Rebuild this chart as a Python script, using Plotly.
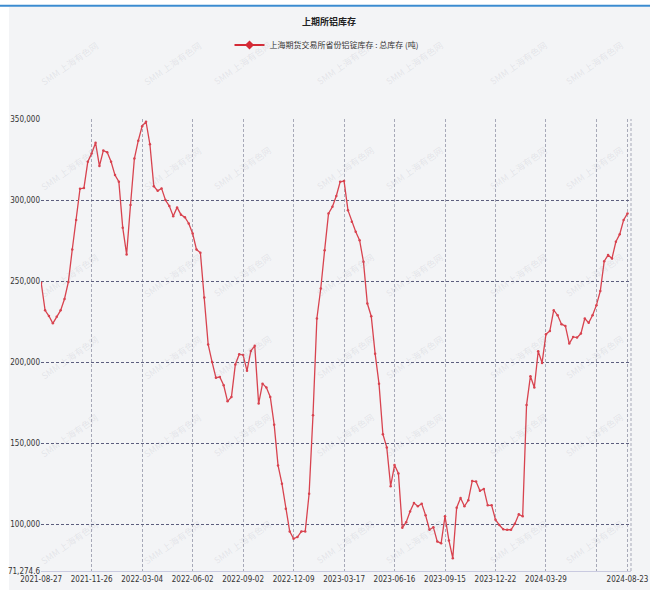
import plotly.graph_objects as go

# ---------------- data ----------------
dates = [
    "2021-08-27", "2021-09-03", "2021-09-10", "2021-09-17", "2021-09-24", "2021-09-30", "2021-10-08",
    "2021-10-15", "2021-10-22", "2021-10-29", "2021-11-05", "2021-11-12", "2021-11-19", "2021-11-26",
    "2021-12-03", "2021-12-10", "2021-12-17", "2021-12-24", "2021-12-31", "2022-01-07", "2022-01-14",
    "2022-01-21", "2022-01-28", "2022-02-11", "2022-02-18", "2022-02-25", "2022-03-04",
    "2022-03-11", "2022-03-18", "2022-03-25", "2022-04-01", "2022-04-08", "2022-04-15", "2022-04-22",
    "2022-04-29", "2022-05-06", "2022-05-13", "2022-05-20", "2022-05-27", "2022-06-02",
    "2022-06-10", "2022-06-17", "2022-06-24", "2022-07-01", "2022-07-08", "2022-07-15", "2022-07-22",
    "2022-07-29", "2022-08-05", "2022-08-12", "2022-08-19", "2022-08-26", "2022-09-02",
    "2022-09-09", "2022-09-16", "2022-09-23", "2022-09-30", "2022-10-14", "2022-10-21", "2022-10-28",
    "2022-11-04", "2022-11-11", "2022-11-18", "2022-11-25", "2022-12-02", "2022-12-09",
    "2022-12-16", "2022-12-23", "2022-12-30", "2023-01-06", "2023-01-13", "2023-01-20", "2023-02-03",
    "2023-02-10", "2023-02-17", "2023-02-24", "2023-03-03", "2023-03-10", "2023-03-17",
    "2023-03-24", "2023-03-31", "2023-04-07", "2023-04-14", "2023-04-21", "2023-04-28", "2023-05-05",
    "2023-05-12", "2023-05-19", "2023-05-26", "2023-06-02", "2023-06-09", "2023-06-16",
    "2023-06-21", "2023-06-30", "2023-07-07", "2023-07-14", "2023-07-21", "2023-07-28", "2023-08-04",
    "2023-08-11", "2023-08-18", "2023-08-25", "2023-09-01", "2023-09-08", "2023-09-15",
    "2023-09-22", "2023-09-28", "2023-10-13", "2023-10-20", "2023-10-27", "2023-11-03", "2023-11-10",
    "2023-11-17", "2023-11-24", "2023-12-01", "2023-12-08", "2023-12-15", "2023-12-22",
    "2023-12-29", "2024-01-05", "2024-01-12", "2024-01-19", "2024-01-26", "2024-02-02", "2024-02-08",
    "2024-02-23", "2024-03-01", "2024-03-08", "2024-03-15", "2024-03-22", "2024-03-29",
    "2024-04-03", "2024-04-12", "2024-04-19", "2024-04-26", "2024-04-30", "2024-05-10", "2024-05-17",
    "2024-05-24", "2024-05-31", "2024-06-07", "2024-06-14", "2024-06-21", "2024-06-28",
    "2024-07-05", "2024-07-12", "2024-07-19", "2024-07-26", "2024-08-02", "2024-08-09", "2024-08-16",
    "2024-08-23",
]

inventory = [
    249000, 232000, 228500, 224000, 228000, 232000, 239000, 249500, 269500, 287700,
    307000, 307400, 323600, 328800, 335400, 321000, 330500, 329500, 323600, 315400,
    311300, 283000, 266500, 297000, 325600, 336600, 345600, 348300, 334400, 308600,
    305700, 307200, 300000, 296300, 290100, 295500, 291000, 289400, 285600, 279400,
    269500, 267500, 240000, 211000, 200200, 190500, 190900, 185800, 175900, 178600,
    198600, 204900, 204500, 194700, 207000, 210100, 174500, 186800, 184400, 178600,
    161500, 136400, 125100, 109700, 95700, 91200, 92200, 95700, 95700, 118900,
    167300, 227000, 245500, 269100, 291800, 295900, 302500, 311300, 311700, 293800,
    286600, 280500, 275300, 261900, 236200, 228400, 205300, 186800, 155600, 147500,
    123600, 136600, 131400, 97900, 101400, 108000, 113200, 111200, 112800, 105600,
    96700, 98300, 89500, 88400, 105000, 90100, 79194, 110300, 116300, 111200,
    114900, 126700, 126400, 120700, 121900, 111800, 111800, 102900, 99600, 97000,
    96700, 96700, 100400, 106200, 105000, 173600, 191400, 184400, 206800, 199600,
    217300, 219300, 232100, 229000, 223500, 222400, 211500, 215600, 215200, 217700,
    227000, 224300, 229000, 235200, 244000, 262300, 266100, 264000, 274300, 279000,
    287700, 291800,
]

x_tick_idx = list(range(0, len(dates), 13)) + [len(dates) - 1]
x_tick_vals = [dates[i] for i in x_tick_idx]
x_tick_text = [dates[i] if i != 143 else "" for i in x_tick_idx]

y_tick_vals = [71274.6, 100000, 150000, 200000, 250000, 300000, 350000]
y_tick_text = ["71,274.6", "100,000", "150,000", "200,000", "250,000", "300,000", "350,000"]

title_text = "上期所铝库存"
series_name = "上海期货交易所省份铝锭库存 : 总库存 (吨)"
watermark = "SMM 上海有色网"

# ---------------- layout helpers ----------------
W, H = 650, 590
L, R, T, B = 41, 19, 119, 19
PW, PH = W - L - R, H - T - B


def px_x(x):
    return (x - L) / PW


def px_y(y):
    return (H - B - y) / PH


num_font = "DejaVu Sans Condensed, Liberation Sans Narrow, sans-serif"
cjk_font = "Noto Sans CJK SC, sans-serif"
line_color = "#d8434f"

fig = go.Figure()
fig.add_trace(go.Scatter(
    x=dates, y=inventory, name=series_name, mode="lines+markers", showlegend=False,
    line=dict(color=line_color, width=1.3),
    marker=dict(color=line_color, size=2.5),
    hoverinfo="skip",
))
# legend entry (no data of its own)
fig.add_trace(go.Scatter(
    x=[None], y=[None], name=series_name, mode="lines+markers", showlegend=True,
    line=dict(color="#d42a36", width=2),
    marker=dict(color="#d42a36", size=7, symbol="diamond"),
))

grid_dash = "3px,2px"
shapes = [
    dict(type="rect", xref="paper", yref="paper", x0=px_x(9), x1=px_x(W), y0=px_y(H), y1=px_y(7),
         fillcolor="#f3f4f6", line=dict(width=0), layer="below"),
    dict(type="line", xref="paper", yref="paper", x0=px_x(0), x1=px_x(W), y0=px_y(5.7), y1=px_y(5.7),
         line=dict(color="#3b8bd0", width=2), layer="below"),
    dict(type="line", xref="paper", yref="paper", x0=1, x1=1, y0=0, y1=1,
         line=dict(color="#a7a9b8", width=1, dash=grid_dash)),
]

annotations = []
cols = [36, 139, 242, 345, 448, 552, 628]
rows = [36, 141, 248, 357, 463, 570]
for cy in rows:
    for cx in cols:
        annotations.append(dict(
            text=watermark, x=px_x(cx), y=px_y(cy), xref="paper", yref="paper",
            showarrow=False, textangle=-35,
            font=dict(family=cjk_font, size=9, color="rgba(150,155,170,0.18)"),
        ))

fig.update_layout(
    width=W, height=H, autosize=False,
    margin=dict(l=L, r=R, t=T, b=B, pad=0, autoexpand=False),
    paper_bgcolor="white", plot_bgcolor="rgba(0,0,0,0)",
    hovermode=False,
    title=dict(text="<b>" + title_text + "</b>", x=329 / W, xref="container", xanchor="center",
               y=1 - 22 / H, yref="container", yanchor="middle",
               font=dict(family=cjk_font, size=9, color="#222")),
    showlegend=True,
    legend=dict(orientation="h", x=327 / W, xanchor="center", xref="container",
                y=1 - 45 / H, yanchor="middle", yref="container",
                font=dict(family=cjk_font, size=8, color="#333"),
                bgcolor="rgba(0,0,0,0)", itemwidth=30),
    xaxis=dict(type="category", range=[-0.05, 151.9], tickmode="array",
               tickvals=x_tick_vals, ticktext=x_tick_text, automargin=False,
               showgrid=True, gridcolor="#a7a9b8", griddash=grid_dash, gridwidth=1,
               showline=True, linecolor="#c9cae0", linewidth=1, ticks="",
               tickfont=dict(family=num_font, size=8, color="#333"), tickangle=0),
    yaxis=dict(range=[71274.6, 350000], tickmode="array", tickvals=y_tick_vals, ticktext=y_tick_text,
               automargin=False,
               showgrid=True, gridcolor="#5c5e7e", griddash=grid_dash, gridwidth=1,
               zeroline=False, showline=False, ticks="",
               tickfont=dict(family=num_font, size=8, color="#333")),
    shapes=shapes, annotations=annotations,
)

fig.write_html("out.html", config={"displayModeBar": False},
               post_script="document.body.style.margin='0';document.documentElement.style.overflow='hidden';")
